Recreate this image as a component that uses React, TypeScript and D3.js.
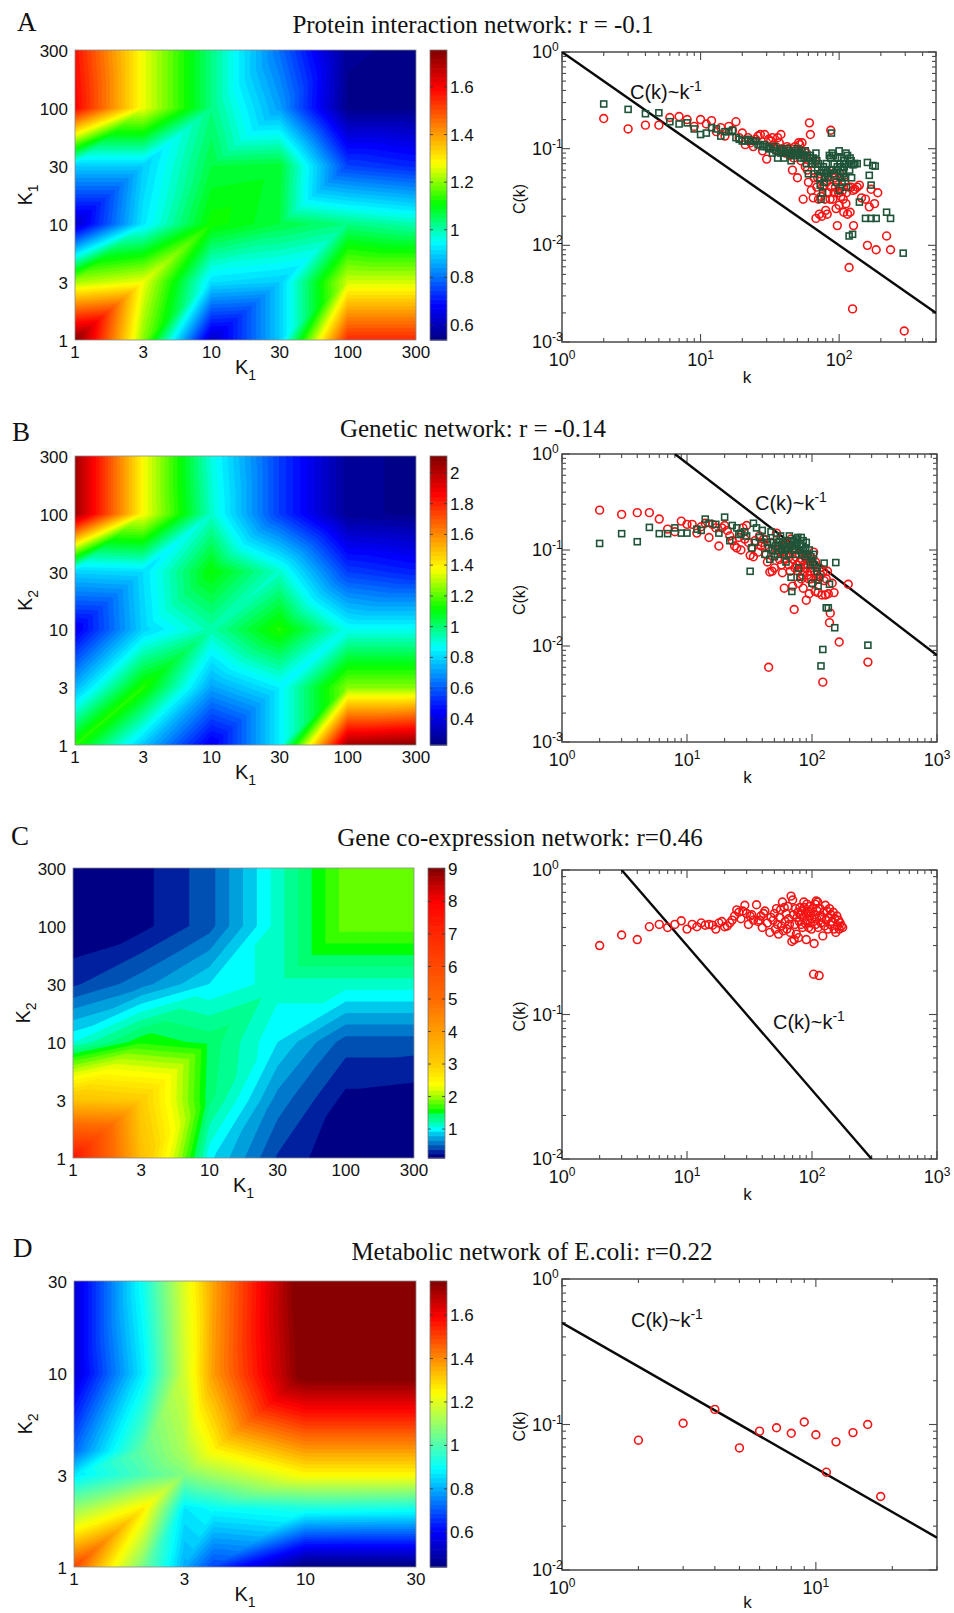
import React from "react";
import * as d3 from "d3";

// ---------- heat-map data (rows: K2 ascending; columns: K1 ascending) ----------
const kTicks = [1, 3, 10, 30, 100, 300];
const heatA = [
  [1.75, 1.2, 0.62, 0.9, 1.55, 1.55],
  [1.22, 1.27, 0.92, 0.9, 1.25, 1.25],
  [0.62, 0.93, 1.12, 1.07, 1.03, 1.0],
  [0.9, 0.9, 1.07, 1.08, 0.75, 0.72],
  [1.6, 1.27, 1.03, 0.85, 0.55, 0.55],
  [1.58, 1.27, 1.03, 0.8, 0.56, 0.55],
];
const heatB = [
  [1.15, 0.78, 0.42, 0.85, 2.05, 2.1],
  [0.75, 1.15, 0.72, 0.85, 1.25, 1.25],
  [0.42, 0.8, 0.95, 1.15, 0.88, 0.88],
  [0.8, 0.82, 1.12, 0.92, 0.55, 0.5],
  [2.05, 1.38, 0.92, 0.55, 0.27, 0.25],
  [2.05, 1.38, 0.9, 0.55, 0.27, 0.25],
];
const heatC = [
  [7.5, 3.3, 0.98, 0.36, 0.1, 0.1],
  [3.2, 3.05, 1.4, 0.6, 0.19, 0.15],
  [1.07, 1.6, 1.45, 0.94, 0.45, 0.45],
  [0.35, 0.6, 0.94, 1.15, 1.15, 1.15],
  [0.1, 0.19, 0.46, 1.15, 1.85, 1.85],
  [0.1, 0.19, 0.46, 1.15, 1.85, 1.85],
];
const gridD = [1, 2, 3, 4, 10, 30];
const heatD = [
  [1.5, 1.05, 0.8, 0.68, 0.43, 0.43],
  [1.1, 1.27, 0.87, 0.9, 0.93, 0.92],
  [0.87, 1.0, 1.07, 1.12, 1.25, 1.25],
  [0.72, 1.03, 1.13, 1.25, 1.38, 1.38],
  [0.55, 0.88, 1.18, 1.38, 1.78, 1.78],
  [0.55, 0.92, 1.2, 1.37, 1.8, 1.8],
];
const kTicksD = [1, 3, 10, 30];

// colour-bar ranges and ticks
const rangeA = [0.537, 1.755];
const rangeB = [0.23, 2.11];
const rangeC = [0.11, 9.03];
const rangeD = [0.44, 1.757];
const barTicksA = [0.6, 0.8, 1, 1.2, 1.4, 1.6];
const barTicksB = [0.4, 0.6, 0.8, 1, 1.2, 1.4, 1.6, 1.8, 2];
const barTicksC = [1, 2, 3, 4, 5, 6, 7, 8, 9];
const barTicksD = [0.6, 0.8, 1, 1.2, 1.4, 1.6];
const bandsCLow = [0.11, 0.24, 0.38, 0.52, 0.66, 0.8, 0.94, 1.08, 1.22, 1.36, 1.5, 1.64, 1.78, 1.92, 2.06, 2.2, 2.34];
const bandColoursCLow = ["#000084", "#0020a0", "#0050b4", "#0078cc", "#00a0dc", "#00c8ec", "#00ffff", "#00ffc8", "#00ff90", "#00ff70", "#00ff00", "#38ff00", "#66ff00", "#99ff00", "#c0ff00", "#e8ff00", "#ffff00"];
const colourStops = [0, 0.12, 0.34, 0.47, 0.61, 0.87, 1];
const colourNames = ["#000080", "#0000ff", "#00ffff", "#00ff00", "#ffff00", "#ff0000", "#800000"];
const colourStopsD = [0, 0.125, 0.345, 0.61, 0.875, 1];
const colourNamesD = ["#000080", "#0000ff", "#00ffff", "#ffff00", "#ff0000", "#800000"];
const colourValueC = [0.11, 1, 1.85, 2.4, 3, 5, 7, 8, 8.5, 9.03];
const colourTC = [0, 0.34, 0.525, 0.61, 0.66, 0.76, 0.83, 0.87, 0.93, 1];

// ---------- scatter data: [k, C(k)] ----------
const redA = [[2,.205],[3,.16],[4,.175],[5,.175],[6,.21],[7,.215],[8,.2],[9,.17],[10,.2],[11,.18],[12,.195],[13,.15],[14,.165],[15,.135],[16,.17],[17,.155],[18,.19],[19,.13],[20,.145],[21,.11],[22,.13],[23,.115],[24,.105],[25,.125],[26,.135],[27,.14],[28,.095],[29,.14],[30,.078],[31,.125],[32,.12],[33,.13],[35,.105],[36,.13],[38,.14],[40,.095],[42,.105],[44,.085],[46,.09],[46,.06],[48,.105],[50,.05],[52,.11],[54,.115],[55,.03],[57,.065],[60,.045],[61,.185],[62,.14],[63,.037],[65,.031],[67,.075],[68,.019],[70,.05],[72,.021],[74,.032],[75,.02],[78,.042],[80,.023],[82,.021],[85,.048],[87,.155],[88,.04],[90,.03],[93,.05],[95,.024],[97,.016],[100,.026],[102,.04],[103,.032],[108,.022],[110,.045],[112,.027],[115,.021],[118,.0059],[120,.022],[125,.0022],[127,.016],[130,.038],[135,.04],[140,.042],[145,.031],[155,.03],[160,.01],[165,.025],[170,.038],[180,.027],[185,.009],[190,.035],[220,.0125],[235,.009],[295,.0013]];
const redAClump = [[32,.105],[34,.1],[37,.115],[39,.1],[41,.09],[43,.1],[45,.1],[47,.08],[49,.09],[51,.115],[53,.075],[56,.085],[58,.09],[59,.06],[64,.07],[66,.05],[69,.04],[71,.03],[73,.055],[76,.04],[79,.03],[81,.045],[83,.035],[86,.03],[89,.055],[92,.035],[94,.04],[96,.045],[99,.035],[101,.055],[105,.036],[107,.03],[113,.035],[117,.04],[122,.04],[126,.037]];
const greenA = [[2,.29],[3,.255],[4,.23],[5,.235],[6,.19],[7,.18],[8,.185],[9,.16],[10,.14],[11,.145],[12,.165],[13,.16],[14,.135],[15,.15],[16,.15],[17,.155],[18,.13],[19,.125],[20,.12],[21,.12],[22,.125],[23,.12],[24,.12],[25,.12],[26,.11],[27,.11],[28,.105],[29,.11],[30,.105],[31,.1],[32,.1],[33,.09],[34,.105],[35,.095],[36,.08],[38,.09],[40,.08],[42,.1],[44,.09],[45,.075],[47,.085],[50,.1],[52,.09],[55,.085],[57,.095],[58,.07],[60,.055],[62,.085],[64,.075],[66,.055],[68,.09],[70,.06],[72,.05],[73,.042],[74,.03],[76,.035],[78,.045],[80,.06],[82,.055],[85,.085],[86,.06],[88,.145],[89,.09],[90,.06],[92,.07],[95,.045],[97,.065],[100,.095],[100,.037],[103,.065],[106,.06],[108,.075],[110,.05],[112,.09],[115,.085],[118,.0125],[120,.08],[123,.05],[125,.013],[128,.07],[135,.07],[140,.028],[155,.019],[160,.072],[165,.053],[170,.042],[170,.019],[175,.067],[182,.066],[185,.019],[220,.022],[235,.019],[290,.0083]];
const greenAClump = [[37,.1],[39,.095],[41,.09],[43,.095],[46,.09],[48,.095],[49,.085],[51,.09],[53,.08],[54,.095],[56,.08],[59,.085],[61,.08],[63,.07],[65,.08],[67,.07],[69,.075],[71,.07],[75,.06],[77,.065],[79,.05],[81,.07],[83,.05],[87,.08],[91,.085],[93,.055],[96,.06],[98,.08],[101,.07],[102,.05],[104,.08],[105,.045],[107,.055],[109,.065],[111,.07],[113,.04],[117,.07],[119,.06],[122,.075],[126,.068],[130,.07]];
const redB = [[2,.26],[3,.235],[4,.245],[5,.245],[6,.21],[7,.165],[8,.155],[9,.2],[10,.185],[11,.185],[12,.15],[13,.175],[14,.19],[15,.135],[16,.185],[17,.17],[18,.11],[19,.17],[20,.18],[21,.16],[22,.14],[23,.125],[24,.11],[25,.105],[26,.135],[27,.1],[28,.17],[29,.13],[30,.18],[31,.12],[32,.088],[33,.105],[34,.085],[35,.125],[37,.095],[38,.14],[40,.12],[42,.11],[44,.075],[45,.006],[46,.059],[48,.06],[50,.065],[52,.15],[53,.1],[55,.08],[58,.058],[60,.04],[62,.09],[65,.07],[68,.13],[70,.042],[72,.024],[73,.065],[75,.1],[78,.045],[80,.075],[82,.05],[85,.04],[88,.09],[90,.03],[92,.055],[95,.035],[97,.06],[100,.08],[103,.095],[106,.037],[108,.05],[112,.036],[115,.065],[120,.034],[122,.0042],[125,.048],[128,.034],[130,.05],[133,.06],[135,.035],[138,.0175],[140,.022],[145,.045],[150,.036],[165,.011],[195,.044],[280,.0068]];
const redBClump = [[39,.11],[41,.13],[43,.09],[47,.12],[49,.1],[51,.09],[54,.12],[56,.095],[57,.07],[59,.11],[61,.08],[63,.12],[64,.1],[66,.085],[67,.06],[69,.1],[71,.08],[74,.085],[76,.07],[77,.06],[79,.09],[81,.065],[83,.08],[84,.055],[86,.07],[87,.06],[89,.065],[91,.08],[93,.07],[94,.05],[96,.075],[98,.05],[99,.065],[101,.045],[105,.06],[107,.075],[110,.055],[113,.05],[117,.055],[123,.06]];
const greenB = [[2,.117],[3,.148],[4,.122],[5,.172],[6,.148],[7,.148],[8,.17],[9,.15],[10,.15],[12,.165],[13,.16],[14,.21],[15,.19],[17,.185],[18,.15],[20,.22],[22,.125],[23,.18],[25,.17],[26,.145],[27,.15],[29,.155],[30,.14],[32,.06],[33,.105],[34,.19],[35,.12],[36,.17],[38,.135],[40,.16],[42,.09],[44,.12],[46,.08],[47,.155],[48,.1],[50,.085],[52,.13],[54,.11],[56,.14],[58,.1],[60,.09],[62,.075],[64,.125],[66,.14],[68,.052],[69,.037],[70,.11],[72,.1],[75,.13],[77,.135],[78,.065],[80,.052],[82,.135],[85,.125],[88,.085],[90,.12],[95,.1],[97,.07],[100,.045],[103,.09],[108,.065],[112,.042],[115,.052],[118,.0062],[122,.0092],[125,.073],[130,.025],[135,.025],[138,.044],[152,.0155],[155,.074],[280,.0102]];
const greenBClump = [[43,.13],[45,.105],[49,.12],[51,.11],[53,.09],[55,.12],[57,.1],[59,.115],[61,.1],[63,.105],[65,.09],[67,.11],[71,.125],[73,.115],[74,.09],[76,.12],[79,.1],[81,.115],[83,.11],[84,.09],[86,.1],[89,.105],[92,.09],[98,.085],[101,.075],[105,.07],[110,.06]];
const redC = [[2,.3],[3,.355],[4,.33],[5,.405],[6,.42],[7,.4],[8,.42],[9,.445],[10,.39],[11,.42],[12,.405],[13,.43],[14,.415],[15,.42],[16,.415],[17,.39],[18,.43],[19,.44],[20,.405],[21,.41],[22,.43],[23,.45],[24,.48],[25,.53],[26,.51],[27,.46],[28,.52],[29,.57],[30,.5],[31,.42],[32,.48],[33,.49],[34,.45],[36,.575],[37,.44],[38,.45],[39,.48],[40,.4],[41,.5],[42,.52],[44,.43],[46,.37],[47,.47],[49,.45],[50,.5],[51,.39],[52,.54],[53,.42],[54,.36],[55,.47],[56,.53],[57,.41],[58,.6],[59,.38],[60,.55],[61,.44],[62,.5],[63,.39],[64,.56],[65,.46],[66,.42],[67,.37],[68,.66],[69,.32],[70,.62],[71,.49],[72,.33],[73,.42],[74,.54],[75,.36],[76,.47],[77,.51],[78,.34],[79,.44],[80,.55],[81,.49],[82,.42],[83,.52],[84,.4],[85,.47],[86,.6],[87,.55],[88,.43],[89,.5],[90,.33],[91,.58],[92,.45],[93,.52],[94,.4],[95,.48],[96,.56],[97,.43],[98,.51],[99,.39],[100,.46],[101,.54],[103,.19],[104,.31],[105,.49],[106,.58],[107,.42],[108,.61],[109,.46],[110,.52],[111,.6],[112,.4],[114,.186],[115,.48],[116,.54],[118,.43],[120,.47],[122,.35],[124,.51],[126,.41],[128,.57],[130,.45],[132,.52],[134,.39],[136,.47],[138,.54],[140,.42],[142,.49],[145,.44],[148,.51],[150,.39],[152,.46],[155,.37],[158,.48],[160,.41],[163,.45],[165,.39],[168,.43],[172,.41],[176,.4]];
const redD = [[2,.078],[3,.102],[4,.127],[5,.069],[6,.09],[7,.095],[8,.087],[9,.104],[10,.085],[11,.047],[12,.076],[14,.088],[16,.1],[18,.032]];

// power-law guide lines: two [k, C(k)] end points
const lineA = [[1, 1], [500, 0.002]];
const lineB = [[8, 1], [1000, 0.008]];
const lineC = [[3, 1], [300, 0.01]];
const lineD = [[1, 0.5], [30, 0.0167]];

const SANS = "'Liberation Sans', Arial, sans-serif";
const SERIF = "'Liberation Serif', 'Times New Roman', serif";

const makeCmap = (stops: number[], names: string[]) =>
  d3.scaleLinear<string>().domain(stops).range(names).interpolate(d3.interpolateRgb).clamp(true);
const jet = makeCmap(colourStops, colourNames);
const jetD = makeCmap(colourStopsD, colourNamesD);

function K({ x, y, sub, rotate }: any) {
  return (
    <text x={x} y={y} fontFamily={SANS} fontSize={20} fill="#111" textAnchor="middle"
      transform={rotate ? `rotate(-90 ${x} ${y})` : undefined}>
      <tspan>K</tspan>
      <tspan dy={6} fontSize={14}>{sub}</tspan>
    </text>
  );
}

type V = { x: number; y: number; v: number };

// Iso-region {value >= level} of a grid whose cells are split along the rising diagonal.
function regionPath(grid: number[][], xPix: number[], yPix: number[], level: number) {
  const p = d3.path();
  const vert = (i: number, j: number): V => ({ x: xPix[i], y: yPix[j], v: grid[j][i] });
  const clip = (tri: V[]) => {
    const out: V[] = [];
    tri.forEach((a, n) => {
      const b = tri[(n + 1) % 3];
      if (a.v >= level) out.push(a);
      if (a.v >= level !== b.v >= level) {
        const f = (level - a.v) / (b.v - a.v);
        out.push({ x: a.x + f * (b.x - a.x), y: a.y + f * (b.y - a.y), v: level });
      }
    });
    if (out.length < 3) return;
    out.forEach((q, n) => (n ? p.lineTo(q.x, q.y) : p.moveTo(q.x, q.y)));
    p.closePath();
  };
  for (let j = 0; j < grid.length - 1; j++) {
    for (let i = 0; i < grid[j].length - 1; i++) {
      clip([vert(i, j), vert(i + 1, j), vert(i + 1, j + 1)]);
      clip([vert(i, j), vert(i + 1, j + 1), vert(i, j + 1)]);
    }
  }
  return p.toString();
}

function Heat({ grid, xs, ticks, range, barTicks, levels, colourOf, rect, barX, yLabelSub, yLabelX, logPos }: any) {
  const { x0, x1, y0, y1 } = rect;
  const fracScale: any = logPos
    ? d3.scaleLog().domain([xs[0], xs[xs.length - 1]]).range([0, 1])
    : d3.scalePoint<number>().domain(xs).range([0, 1]);
  const xPix = xs.map((k: number) => x0 + (x1 - x0) * fracScale(k));
  const yPix = xs.map((k: number) => y1 - (y1 - y0) * fracScale(k));
  const bandColour = (i: number) => {
    const lo = levels[i];
    const hi = i + 1 < levels.length ? levels[i + 1] : range[1];
    return colourOf((lo + hi) / 2, i);
  };
  const barScale = d3.scaleLinear().domain(range).range([y1, y0]);
  return (
    <g>
      <rect x={x0} y={y0} width={x1 - x0} height={y1 - y0} fill={bandColour(0)} />
      {levels.map((l: number, i: number) => (
        i === 0 ? null : <path key={i} d={regionPath(grid, xPix, yPix, l)} fill={bandColour(i)} />
      ))}
      <rect x={x0} y={y0} width={x1 - x0} height={y1 - y0} fill="none" stroke="#8a8a8a" strokeWidth={0.8} />
      {levels.map((lo: number, i: number) => {
        const hi = i + 1 < levels.length ? levels[i + 1] : range[1];
        return <rect key={i} x={barX} y={barScale(hi)} width={17} height={barScale(lo) - barScale(hi) + 0.6} fill={bandColour(i)} />;
      })}
      <rect x={barX} y={y0} width={17} height={y1 - y0} fill="none" stroke="#777" strokeWidth={0.8} />
      {barTicks.map((t: number) => (
        <g key={t}>
          <line x1={barX} x2={barX + 3} y1={barScale(t)} y2={barScale(t)} stroke="#333" strokeWidth={0.8} />
          <line x1={barX + 14} x2={barX + 17} y1={barScale(t)} y2={barScale(t)} stroke="#333" strokeWidth={0.8} />
          <text x={barX + 20} y={barScale(t) + 6} fontFamily={SANS} fontSize={17} fill="#111">{t}</text>
        </g>
      ))}
      {ticks.map((t: number) => (
        <g key={t}>
          <text x={x0 + (x1 - x0) * fracScale(t)} y={y1 + 18} textAnchor="middle" fontFamily={SANS} fontSize={17} fill="#111">{t}</text>
          <text x={x0 - 7} y={y1 - (y1 - y0) * fracScale(t) + 7} textAnchor="end" fontFamily={SANS} fontSize={17} fill="#111">{t}</text>
        </g>
      ))}
      <K x={(x0 + x1) / 2} y={y1 + 34} sub="1" />
      <K x={yLabelX} y={(y0 + y1) / 2} sub={yLabelSub} rotate />
    </g>
  );
}

function logTicks(lo: number, hi: number) {
  const out: number[] = [];
  for (let e = Math.floor(Math.log10(lo)); e <= Math.ceil(Math.log10(hi)); e++) {
    for (let m = 1; m <= 9; m++) {
      const t = m * Math.pow(10, e);
      if (t >= lo * 0.999 && t <= hi * 1.001) out.push(t);
    }
  }
  return out;
}

function Scatter({ id, rect, xMax, yMin, red, green, line, note, xExp, yExp, kDy = 41 }: any) {
  const { x0, x1, y0, y1 } = rect;
  const x = d3.scaleLog().domain([1, xMax]).range([x0, x1]);
  const y = d3.scaleLog().domain([yMin, 1]).range([y1, y0]);
  const axis = "#4a4a4a";
  const xAll = logTicks(1, xMax);
  const yAll = logTicks(yMin, 1);
  const isMajor = (t: number) => Math.abs(Math.log10(t) - Math.round(Math.log10(t))) < 1e-6;
  return (
    <g>
      <clipPath id={id}><rect x={x0} y={y0} width={x1 - x0} height={y1 - y0} /></clipPath>
      {xAll.map((t, i) => {
        const l = isMajor(t) ? 8 : 4;
        return (
          <g key={i} stroke={axis} strokeWidth={1.1}>
            <line x1={x(t)} x2={x(t)} y1={y1} y2={y1 - l} />
            <line x1={x(t)} x2={x(t)} y1={y0} y2={y0 + l} />
          </g>
        );
      })}
      {yAll.map((t, i) => {
        const l = isMajor(t) ? 8 : 4;
        return (
          <g key={i} stroke={axis} strokeWidth={1.1}>
            <line x1={x0} x2={x0 + l} y1={y(t)} y2={y(t)} />
            <line x1={x1} x2={x1 - l} y1={y(t)} y2={y(t)} />
          </g>
        );
      })}
      <rect x={x0} y={y0} width={x1 - x0} height={y1 - y0} fill="none" stroke={axis} strokeWidth={1.5} />
      <g clipPath={`url(#${id})`}>
        <path d={d3.line().x((d: any) => x(d[0])).y((d: any) => y(d[1]))(line) || ""} stroke="#0a0a0a" strokeWidth={2.4} fill="none" />
      </g>
      {red.map((d: number[], i: number) => (
        <circle key={i} cx={x(d[0])} cy={y(d[1])} r={3.9} fill="none" stroke="#f51414" strokeWidth={1.6} />
      ))}
      {green.map((d: number[], i: number) => (
        <rect key={i} x={x(d[0]) - 3} y={y(d[1]) - 3} width={6} height={6} fill="none" stroke="#1f5438" strokeWidth={1.6} />
      ))}
      {xExp.map((e: number) => (
        <text key={e} x={x(Math.pow(10, e))} y={y1 + 24} textAnchor="middle" fontFamily={SANS} fontSize={18} fill="#111">
          <tspan>10</tspan><tspan dy={-7} fontSize={12}>{e}</tspan>
        </text>
      ))}
      {yExp.map((e: number) => (
        <text key={e} x={x0 - 30} y={y(Math.pow(10, e)) + 6} fontFamily={SANS} fontSize={18} fill="#111">
          <tspan>10</tspan><tspan dy={-7} fontSize={12}>{e}</tspan>
        </text>
      ))}
      <text x={(x0 + x1) / 2 - 2} y={y1 + kDy} textAnchor="middle" fontFamily={SANS} fontSize={17} fill="#111">k</text>
      <text x={x0 - 37} y={(y0 + y1) / 2 + 2} textAnchor="middle" fontFamily={SANS} fontSize={16} fill="#111"
        transform={`rotate(-90 ${x0 - 37} ${(y0 + y1) / 2 + 2})`}>C(k)</text>
      <text x={note[0]} y={note[1]} fontFamily={SANS} fontSize={20} fill="#111">
        <tspan>C(k)~k</tspan><tspan dy={-8} fontSize={14}>-1</tspan>
      </text>
    </g>
  );
}

const linearColour = (r: number[], cmap: any) => {
  const t = d3.scaleLinear().domain(r).range([0, 1]);
  return (v: number) => cmap(t(v));
};
const tC = d3.scaleLinear().domain(colourValueC).range(colourTC).clamp(true);
const colourC = (v: number, i: number) => (i < bandColoursCLow.length ? bandColoursCLow[i] : jet(tC(v)));
const levelsOf = (r: number[]) => d3.range(0, 64).map((i) => r[0] + ((r[1] - r[0]) * i) / 64);
const levelsC = [...bandsCLow, ...d3.range(2.48, 9.03, 0.14)];

function Label({ x, y, children }: any) {
  return <text x={x} y={y} fontFamily={SERIF} fontSize={27} fill="#111">{children}</text>;
}
function Title({ x, y, children }: any) {
  return <text x={x} y={y} textAnchor="middle" fontFamily={SERIF} fontSize={25} fill="#111">{children}</text>;
}

export default function App() {
  return (
    <svg width={954} height={1613} viewBox="0 0 954 1613"
      style={{ position: "absolute", left: 0, top: 0, background: "#fff" }}>
      <Label x={17} y={31}>A</Label>
      <Title x={473} y={33}>Protein interaction network: r = -0.1</Title>
      <Heat grid={heatA} xs={kTicks} ticks={kTicks} range={rangeA} barTicks={barTicksA}
        levels={levelsOf(rangeA)} colourOf={linearColour(rangeA, jet)} rect={{ x0: 75, x1: 416, y0: 50, y1: 340 }} barX={430} yLabelSub="1" yLabelX={32} />
      <Scatter id="sa" rect={{ x0: 562, x1: 936, y0: 52, y1: 342 }} xMax={500} yMin={0.001} red={[...redA, ...redAClump]} green={[...greenA, ...greenAClump]}
        line={lineA} note={[630, 99]} xExp={[0, 1, 2]} yExp={[0, -1, -2, -3]} />

      <Label x={12} y={441}>B</Label>
      <Title x={473} y={437}>Genetic network: r = -0.14</Title>
      <Heat grid={heatB} xs={kTicks} ticks={kTicks} range={rangeB} barTicks={barTicksB}
        levels={levelsOf(rangeB)} colourOf={linearColour(rangeB, jet)} rect={{ x0: 75, x1: 416, y0: 456, y1: 745 }} barX={430} yLabelSub="2" yLabelX={32} />
      <Scatter id="sb" rect={{ x0: 562, x1: 937, y0: 454, y1: 742 }} xMax={1000} yMin={0.001} red={[...redB, ...redBClump]} green={[...greenB, ...greenBClump]}
        line={lineB} note={[755, 510]} xExp={[0, 1, 2, 3]} yExp={[0, -1, -2, -3]} />

      <Label x={11} y={845}>C</Label>
      <Title x={520} y={846}>Gene co-expression network: r=0.46</Title>
      <Heat grid={heatC} xs={kTicks} ticks={kTicks} range={rangeC} barTicks={barTicksC}
        levels={levelsC} colourOf={colourC} rect={{ x0: 73, x1: 414, y0: 868, y1: 1158 }} barX={428} yLabelSub="2" yLabelX={30} />
      <Scatter id="sc" rect={{ x0: 562, x1: 937, y0: 870, y1: 1159 }} xMax={1000} yMin={0.01} red={redC} green={[]}
        line={lineC} note={[773, 1029]} xExp={[0, 1, 2, 3]} yExp={[0, -1, -2]} />

      <Label x={13} y={1257}>D</Label>
      <Title x={532} y={1260}>Metabolic network of E.coli: r=0.22</Title>
      <Heat grid={heatD} xs={gridD} ticks={kTicksD} range={rangeD} barTicks={barTicksD} logPos
        levels={levelsOf(rangeD)} colourOf={linearColour(rangeD, jetD)} rect={{ x0: 74, x1: 416, y0: 1281, y1: 1567 }} barX={430} yLabelSub="2" yLabelX={32} />
      <Scatter id="sd" rect={{ x0: 562, x1: 937, y0: 1279, y1: 1570 }} xMax={30} yMin={0.01} red={redD} green={[]}
        line={lineD} note={[631, 1327]} xExp={[0, 1]} yExp={[0, -1, -2]} kDy={38} />
    </svg>
  );
}
